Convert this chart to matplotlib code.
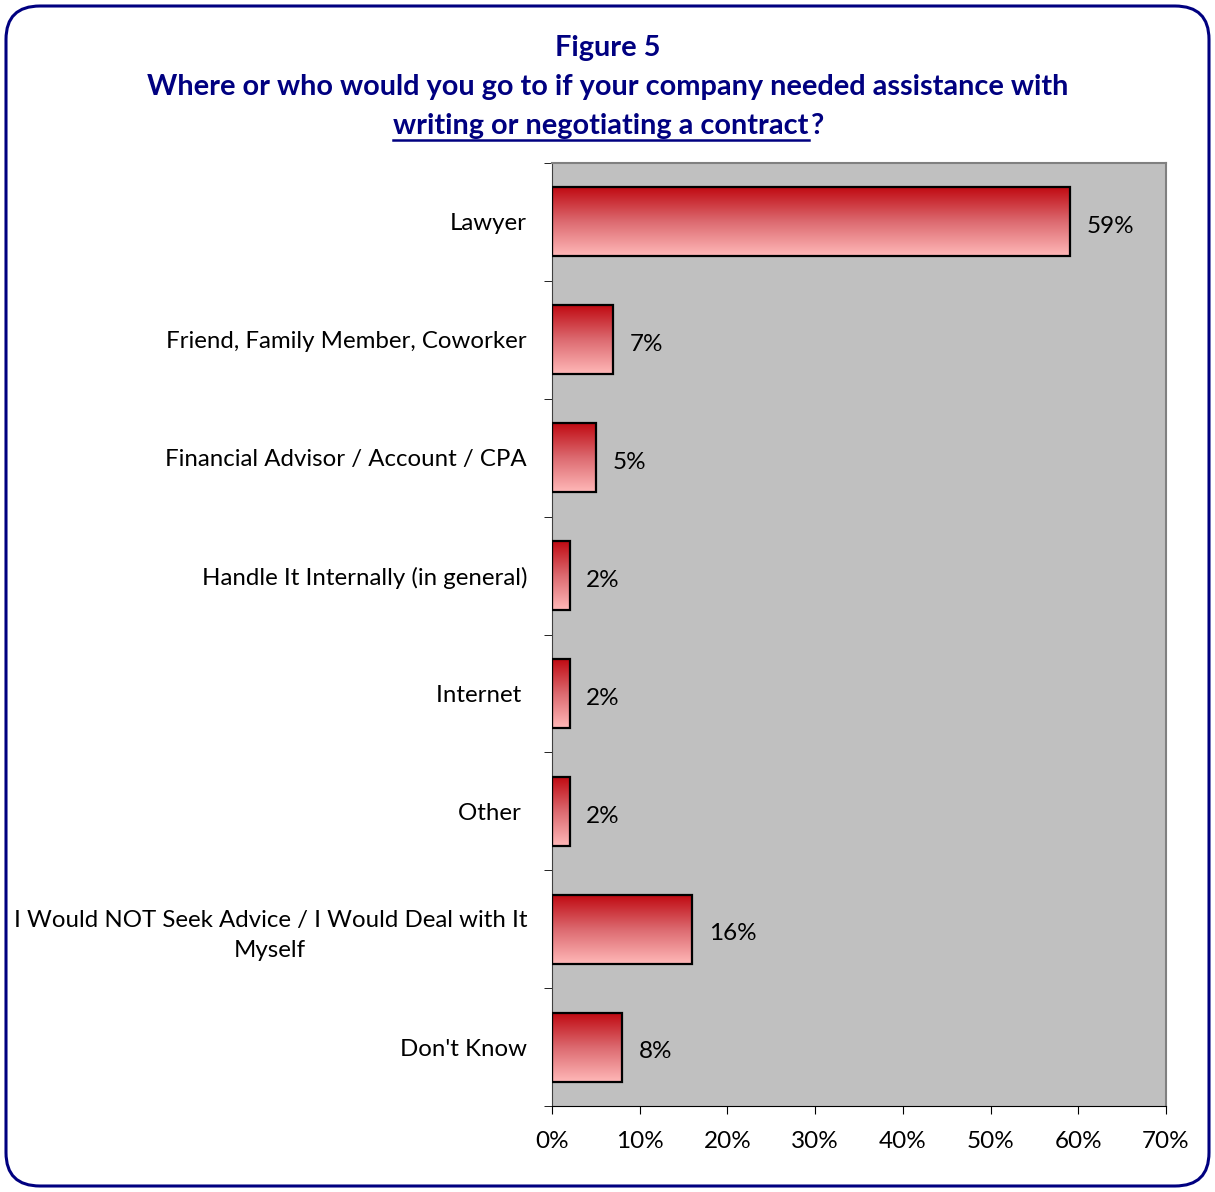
import numpy as np
from matplotlib import pyplot as plt
from matplotlib.patches import FancyBboxPatch
from matplotlib.colors import LinearSegmentedColormap

plt.rcParams['font.family'] = ['Lato', 'DejaVu Sans']

categories = ["Lawyer", "Friend, Family Member, Coworker", "Financial Advisor / Account / CPA",
              "Handle It Internally (in general)", "Internet ", "Other ",
              "I Would NOT Seek Advice / I Would Deal with It\nMyself", "Don't Know"]
values = [59, 7, 5, 2, 2, 2, 16, 8]
xticks = [0, 10, 20, 30, 40, 50, 60, 70]

navy = "#000080"
fig = plt.figure(figsize=(12.15, 11.92), dpi=100)

# rounded frame
frame = FancyBboxPatch((6/1215, 6/1192), 1203/1215, 1180/1192,
                       boxstyle="round,pad=0,rounding_size=0.028",
                       transform=fig.transFigure, fill=False,
                       edgecolor=navy, linewidth=2.2)
fig.patches.append(frame)

ax = fig.add_axes([552/1215, 1 - 1106/1192, 614/1215, 943/1192])
ax.set_facecolor("#C0C0C0")

n = len(categories)
y = np.arange(n)
bar_h = 0.585
cmap = LinearSegmentedColormap.from_list("bar", ["#C00A12", "#DC6A70", "#FFB8B8"])
grad = np.linspace(0, 1, 256).reshape(-1, 1)
for yi, v in zip(y, values):
    ax.imshow(grad, cmap=cmap, aspect='auto', origin='upper',
              extent=[0, v, yi + bar_h / 2, yi - bar_h / 2], zorder=2)
ax.barh(y, values, height=bar_h, facecolor='none', edgecolor='black', linewidth=1.6, zorder=3)
for yi, v in zip(y, values):
    ax.annotate(f"{v}%", (v, yi), xytext=(12, -2), textcoords='offset points',
                va='center_baseline', ha='left', fontsize=17.5, zorder=4)

ax.set_xlim(0, 70)
ax.set_ylim(n - 0.5, -0.5)
ax.set_xticks(xticks)
ax.set_xticklabels([f"{t}%" for t in xticks], fontsize=17.5)
ax.set_yticks(y)
ax.set_yticklabels(categories, fontsize=17.3, multialignment='center', linespacing=1.5)
ax.set_yticks(np.arange(n + 1) - 0.5, minor=True)
ax.tick_params(axis='y', which='major', length=0, pad=18)
ax.tick_params(axis='y', which='minor', length=6, direction='out')
ax.tick_params(axis='x', length=6, direction='out', pad=12)

for s in ['top', 'right']:
    ax.spines[s].set_color('#808080')
    ax.spines[s].set_linewidth(1.5)
ax.spines['left'].set_color('#404040')
ax.spines['bottom'].set_color('black')

# titles
tsize = 20.8
fig.text(0.5, 1 - 48/1192, "Figure 5", ha='center', va='center', fontsize=tsize,
         fontweight='bold', color=navy)
fig.text(0.5, 1 - 87/1192, "Where or who would you go to if your company needed assistance with",
         ha='center', va='center', fontsize=tsize, fontweight='bold', color=navy)

part1 = "writing or negotiating a contract"
part2 = "?"
t1 = fig.text(0, 1 - 126/1192, part1, ha='left', va='center', fontsize=tsize,
              fontweight='bold', color=navy)
t2 = fig.text(0, 1 - 126/1192, part2, ha='left', va='center', fontsize=tsize,
              fontweight='bold', color=navy)
fig.canvas.draw()
r = fig.canvas.get_renderer()
w1 = t1.get_window_extent(r).width / fig.bbox.width
w2 = t2.get_window_extent(r).width / fig.bbox.width
x0 = 0.5 - (w1 + w2) / 2
t1.set_x(x0)
t2.set_x(x0 + w1 + 2/1215)
ul_y = 1 - 140/1192
fig.add_artist(plt.Line2D([x0, x0 + w1], [ul_y, ul_y], transform=fig.transFigure,
                          color=navy, linewidth=1.8))

fig.savefig("out.png", dpi=100)
